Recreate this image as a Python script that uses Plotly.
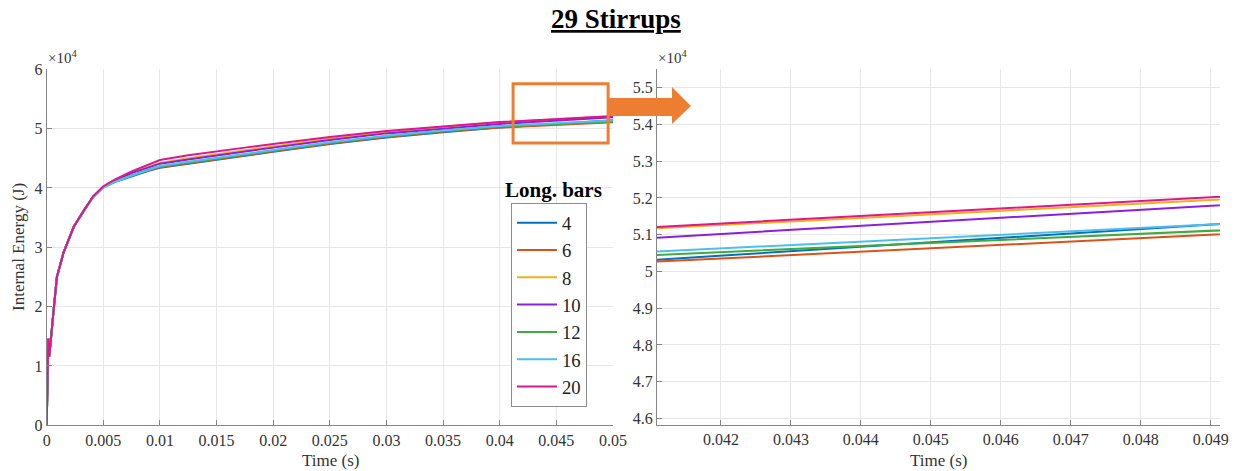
import numpy as np
import plotly.graph_objects as go

W, H = 1235, 471

# ---------------- data (Internal energy in J) ----------------
time_s = [0, 0.00005, 0.00014, 0.00023, 0.0004, 0.0006, 0.0009, 0.0015, 0.0024, 0.0033,
          0.0041, 0.005, 0.006, 0.0075, 0.009, 0.01, 0.0125, 0.015, 0.0175, 0.02,
          0.025, 0.03, 0.035, 0.04, 0.05]

bars = ["4", "6", "8", "10", "12", "16", "20"]

energy_4 = [0, 9000, 14600, 11600, 15500, 19200, 25000, 29200, 33500, 36300,
            38500, 40100, 41000, 42000, 42900, 43400, 44100, 44800, 45400, 46100,
            47400, 48500, 49400, 50190, 51395]
energy_6 = [0, 9000, 14600, 11600, 15500, 19200, 25000, 29200, 33500, 36300,
            38500, 40100, 41100, 42100, 43000, 43500, 44200, 44900, 45500, 46200,
            47500, 48600, 49500, 50170, 51090]
energy_8 = [0, 9000, 14600, 11600, 15500, 19200, 25000, 29200, 33500, 36300,
            38600, 40200, 41300, 42600, 43600, 44200, 45000, 45700, 46300, 47000,
            48300, 49400, 50300, 51070, 52040]
energy_10 = [0, 9000, 14600, 11600, 15500, 19200, 25000, 29200, 33500, 36300,
             38600, 40200, 41200, 42500, 43500, 44100, 44800, 45500, 46100, 46800,
             48100, 49200, 50000, 50800, 51900]
energy_12 = [0, 9000, 14600, 11600, 15500, 19200, 25000, 29200, 33500, 36300,
             38500, 40100, 41100, 42100, 43100, 43600, 44300, 45000, 45600, 46300,
             47600, 48700, 49600, 50360, 51190]
energy_16 = [0, 9000, 14600, 11600, 15500, 19200, 25000, 29200, 33500, 36200,
             38400, 40000, 41000, 42100, 43100, 43700, 44400, 45100, 45700, 46400,
             47700, 48800, 49700, 50440, 51370]
energy_20 = [0, 9000, 14600, 11600, 15500, 19200, 25000, 29200, 33500, 36300,
             38600, 40300, 41400, 42800, 44000, 44700, 45500, 46200, 46800, 47400,
             48600, 49600, 50400, 51100, 52120]

series = [energy_4, energy_6, energy_8, energy_10, energy_12, energy_16, energy_20]
colors = ["#0072BD", "#D95319", "#EDB120", "#8B1FE0", "#3FAA3F", "#4DBEEE", "#E0168C"]

left_xticks = [0, 0.005, 0.01, 0.015, 0.02, 0.025, 0.03, 0.035, 0.04, 0.045, 0.05]
left_xlabels = ["0", "0.005", "0.01", "0.015", "0.02", "0.025", "0.03", "0.035", "0.04", "0.045", "0.05"]
left_yticks = [0, 1, 2, 3, 4, 5, 6]
left_ylabels = ["0", "1", "2", "3", "4", "5", "6"]
right_xticks = [0.042, 0.043, 0.044, 0.045, 0.046, 0.047, 0.048, 0.049]
right_xlabels = ["0.042", "0.043", "0.044", "0.045", "0.046", "0.047", "0.048", "0.049"]
right_yticks = [4.6, 4.7, 4.8, 4.9, 5.0, 5.1, 5.2, 5.3, 5.4, 5.5]
right_ylabels = ["4.6", "4.7", "4.8", "4.9", "5", "5.1", "5.2", "5.3", "5.4", "5.5"]

# ---------------- figure ----------------
def px(x):
    return x / W

def py(y):
    return 1 - y / H

FONT = "Liberation Serif"
fig = go.Figure()
t = np.array(time_s)
for name, vals, col in zip(bars, series, colors):
    y = np.array(vals) / 1e4
    fig.add_trace(go.Scatter(x=t, y=y, mode="lines", name=name,
                             line=dict(color=col, width=2), xaxis="x", yaxis="y",
                             showlegend=True))
for name, vals, col in zip(bars, series, colors):
    y = np.array(vals) / 1e4
    fig.add_trace(go.Scatter(x=t, y=y, mode="lines", name=name,
                             line=dict(color=col, width=2), xaxis="x2", yaxis="y2",
                             showlegend=False))

axis_common = dict(showgrid=True, gridcolor="#e6e6e6", gridwidth=1, zeroline=False,
                   showline=True, linecolor="#858585", linewidth=1,
                   ticks="inside", ticklen=5, tickcolor="#858585",
                   tickfont=dict(family=FONT, size=16, color="#333333"),
                   tickmode="array", automargin=False, mirror=False)

fig.update_layout(
    width=W, height=H,
    margin=dict(l=0, r=0, t=0, b=0),
    paper_bgcolor="white", plot_bgcolor="white",
    xaxis=dict(domain=[px(46.7), px(613)], range=[0, 0.05], anchor="y",
               tickvals=left_xticks, ticktext=left_xlabels, **axis_common),
    yaxis=dict(domain=[py(425.3), py(69.3)], range=[0, 6], anchor="x",
               tickvals=left_yticks, ticktext=left_ylabels, **axis_common),
    xaxis2=dict(domain=[px(657), px(1220)], range=[0.041086, 0.049133], anchor="y2",
                tickvals=right_xticks, ticktext=right_xlabels, **axis_common),
    yaxis2=dict(domain=[py(424.5), py(69.3)], range=[4.5837, 5.550], anchor="x2",
                tickvals=right_yticks, ticktext=right_ylabels, **axis_common),
    legend=dict(x=px(511), y=py(203), xanchor="left", yanchor="top",
                font=dict(family=FONT, size=18.7, color="#222222"),
                bordercolor="#8c8c8c", borderwidth=1, bgcolor="white",
                tracegroupgap=0, itemwidth=40),
    showlegend=True,
)

ann = [
    dict(text="<b><u>29 Stirrups</u></b>", x=px(616), y=py(19), xref="paper", yref="paper",
         showarrow=False, font=dict(family=FONT, size=27, color="black"),
         xanchor="center", yanchor="middle"),
    dict(text="<b>Long. bars</b>", x=px(553), y=py(190), xref="paper", yref="paper",
         showarrow=False, font=dict(family=FONT, size=21, color="black"),
         xanchor="center", yanchor="middle"),
    dict(text="Internal Energy (J)", x=px(18), y=py(247), xref="paper", yref="paper",
         showarrow=False, textangle=-90, font=dict(family=FONT, size=17, color="#333333"),
         xanchor="center", yanchor="middle"),
    dict(text="Time (s)", x=px(330), y=py(460), xref="paper", yref="paper",
         showarrow=False, font=dict(family=FONT, size=17, color="#333333"),
         xanchor="center", yanchor="middle"),
    dict(text="Time (s)", x=px(938), y=py(460), xref="paper", yref="paper",
         showarrow=False, font=dict(family=FONT, size=17, color="#333333"),
         xanchor="center", yanchor="middle"),
    dict(text="×10<sup>4</sup>", x=px(46), y=py(57), xref="paper", yref="paper",
         showarrow=False, font=dict(family=FONT, size=15, color="#333333"),
         xanchor="left", yanchor="middle"),
    dict(text="×10<sup>4</sup>", x=px(656), y=py(57), xref="paper", yref="paper",
         showarrow=False, font=dict(family=FONT, size=15, color="#333333"),
         xanchor="left", yanchor="middle"),
]
fig.update_layout(annotations=ann)

ORANGE = "#ED7D31"
# zoom box on the left panel (data coords)
fig.add_shape(type="rect", xref="x", yref="y", x0=0.04118, x1=0.04957, y0=4.758, y1=5.758,
              line=dict(color=ORANGE, width=3), fillcolor="rgba(0,0,0,0)", layer="above")
# arrow (paper coords)
pts = [(608, 98), (672, 98), (672, 87), (691, 106), (672, 124), (672, 116), (608, 116)]
path = "M " + " L ".join(f"{px(x):.5f},{py(y):.5f}" for x, y in pts) + " Z"
fig.add_shape(type="path", xref="paper", yref="paper", path=path,
              fillcolor=ORANGE, line=dict(color=ORANGE, width=0), layer="above")

fig.write_html("out.html")
